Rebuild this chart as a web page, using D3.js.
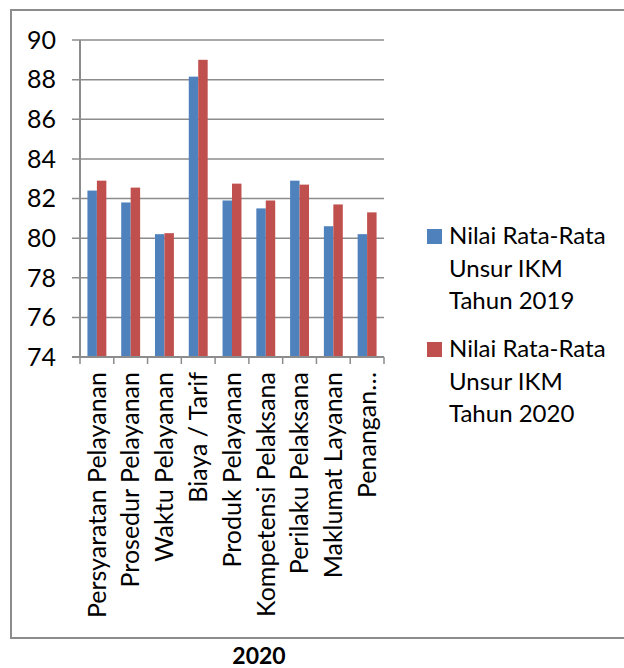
<!DOCTYPE html>
<html>
<head>
<meta charset="utf-8">
<script src="https://cdn.jsdelivr.net/npm/d3@7"></script>
<style>
  body { margin: 0; background: #fff; }
  text { font-family: Lato, "Open Sans", sans-serif; fill: #000; }
</style>
</head>
<body>
<div id="app"></div>
<script>
var categories = ["Persyaratan Pelayanan", "Prosedur Pelayanan", "Waktu Pelayanan",
    "Biaya / Tarif", "Produk Pelayanan", "Kompetensi Pelaksana",
    "Perilaku Pelaksana", "Maklumat Layanan", "Penangan…"];
var values2019 = [82.4, 81.8, 80.2, 88.15, 81.9, 81.5, 82.9, 80.6, 80.2];
var values2020 = [82.9, 82.55, 80.25, 89.0, 82.75, 81.9, 82.7, 81.7, 81.3];
var seriesNames = ["Tahun 2019", "Tahun 2020"];
var seriesColors = ["#4f81bd", "#c0504d"];
var legendLines = [
    ["Nilai Rata-Rata", "Unsur IKM", "Tahun 2019"],
    ["Nilai Rata-Rata", "Unsur IKM", "Tahun 2020"]
];
var yTicks = [74, 76, 78, 80, 82, 84, 86, 88, 90];
var title = "2020";

var width = 624,
    height = 668;

var svg = d3.select("#app").append("svg")
    .attr("width", width)
    .attr("height", height);

// chart frame (runs off the right edge)
svg.append("rect")
    .attr("x", 11)
    .attr("y", 10)
    .attr("width", 640)
    .attr("height", 628)
    .attr("fill", "none")
    .attr("stroke", "#8c8c8c")
    .attr("stroke-width", 2);

var plotLeft = 80, plotRight = 384, plotTop = 40, plotBottom = 357;

var x0 = d3.scaleBand()
    .domain(categories)
    .range([plotLeft, plotRight])
    .paddingInner(0.44)
    .paddingOuter(0.22);

var x1 = d3.scaleBand()
    .domain(seriesNames)
    .range([0, x0.bandwidth()]);

var y = d3.scaleLinear()
    .domain([74, 90])
    .range([plotBottom, plotTop]);

// gridlines
svg.append("g").selectAll("line")
    .data(yTicks)
    .enter().append("line")
    .attr("x1", plotLeft - 8)
    .attr("x2", plotRight)
    .attr("y1", function(d) { return y(d); })
    .attr("y2", function(d) { return y(d); })
    .attr("stroke", "#8c8c8c")
    .attr("stroke-width", 1.5);

// y axis labels
svg.append("g").selectAll("text")
    .data(yTicks)
    .enter().append("text")
    .attr("x", 56)
    .attr("y", function(d) { return y(d); })
    .attr("dy", "0.35em")
    .attr("text-anchor", "end")
    .style("font-size", "25px")
    .text(function(d) { return d; });

// bars
var rows = categories.map(function(c, i) {
    return {cat: c, vals: [values2019[i], values2020[i]]};
});

var groups = svg.append("g").selectAll("g")
    .data(rows)
    .enter().append("g")
    .attr("transform", function(d) { return "translate(" + x0(d.cat) + ",0)"; });

groups.selectAll("rect")
    .data(function(d) { return d.vals.map(function(v, j) { return {s: seriesNames[j], v: v, j: j}; }); })
    .enter().append("rect")
    .attr("x", function(d) { return x1(d.s); })
    .attr("width", x1.bandwidth())
    .attr("y", function(d) { return y(d.v); })
    .attr("height", function(d) { return plotBottom - y(d.v); })
    .attr("fill", function(d) { return seriesColors[d.j]; });

// y axis line
svg.append("line")
    .attr("x1", plotLeft).attr("x2", plotLeft)
    .attr("y1", plotTop).attr("y2", plotBottom)
    .attr("stroke", "#8c8c8c")
    .attr("stroke-width", 2);

// x axis line + ticks between categories
svg.append("line")
    .attr("x1", plotLeft - 8).attr("x2", plotRight)
    .attr("y1", plotBottom).attr("y2", plotBottom)
    .attr("stroke", "#8c8c8c")
    .attr("stroke-width", 2);

var step = x0.step();
svg.append("g").selectAll("line")
    .data(d3.range(categories.length + 1))
    .enter().append("line")
    .attr("x1", function(i) { return plotLeft + i * step; })
    .attr("x2", function(i) { return plotLeft + i * step; })
    .attr("y1", plotBottom)
    .attr("y2", plotBottom + 7)
    .attr("stroke", "#8c8c8c")
    .attr("stroke-width", 1.5);

// category labels, rotated
svg.append("g").selectAll("text")
    .data(categories)
    .enter().append("text")
    .attr("transform", function(d) {
        return "translate(" + (x0(d) + x0.bandwidth() / 2) + "," + (plotBottom + 15) + ") rotate(-90)";
    })
    .attr("dy", "0.35em")
    .attr("text-anchor", "end")
    .style("font-size", "25px")
    .text(function(d) { return d; });

// legend
var legend = svg.append("g").selectAll("g")
    .data(legendLines)
    .enter().append("g")
    .attr("transform", function(d, i) { return "translate(427," + (229 + i * 113) + ")"; });

legend.append("rect")
    .attr("width", 15)
    .attr("height", 15)
    .attr("fill", function(d, i) { return seriesColors[i]; });

legend.each(function(lines) {
    d3.select(this).selectAll("text")
        .data(lines)
        .enter().append("text")
        .attr("x", 22)
        .attr("y", function(d, k) { return 15 + k * 32.5; })
        .style("font-size", "24px")
        .text(function(d) { return d; });
});

// title
svg.append("text")
    .attr("x", 259)
    .attr("y", 664)
    .attr("text-anchor", "middle")
    .style("font-size", "23px")
    .style("font-weight", "bold")
    .text(title);
</script>
</body>
</html>
